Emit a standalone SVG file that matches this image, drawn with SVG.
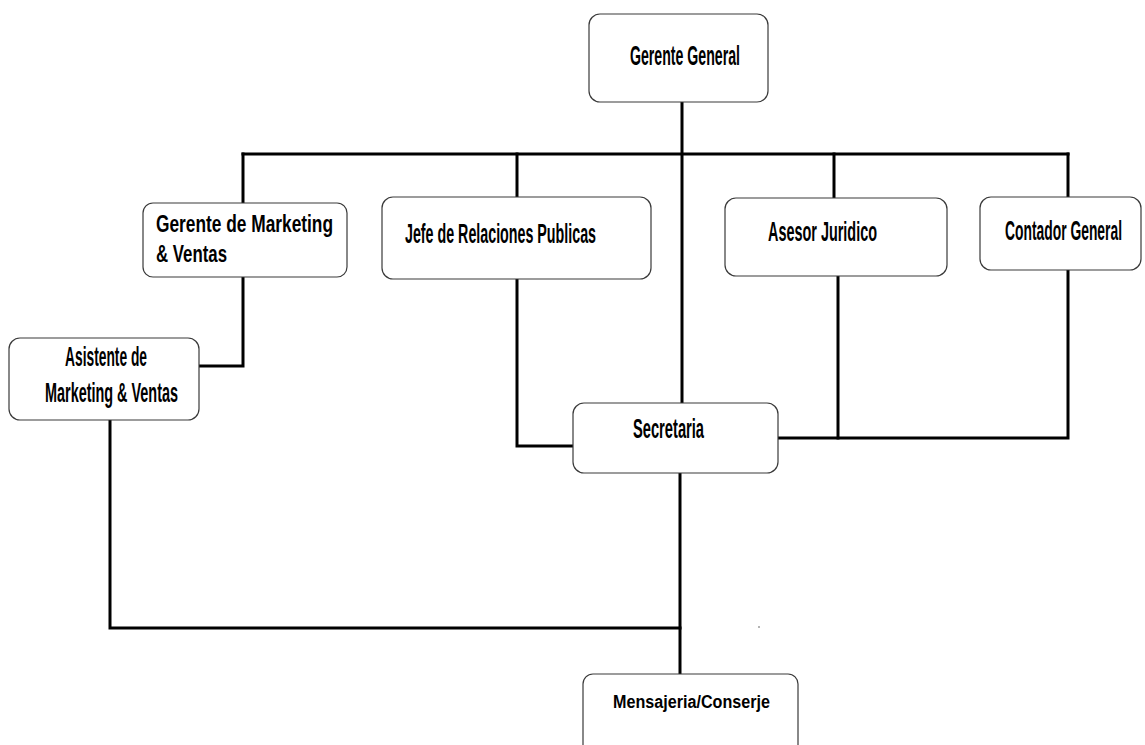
<svg xmlns="http://www.w3.org/2000/svg" width="1145" height="745" viewBox="0 0 1145 745">
<style>
.box{fill:#fff;stroke:#3a3a3a;stroke-width:1.2}
.t{font-family:"Liberation Sans",Arial,sans-serif;font-size:27px;font-weight:bold;fill:#000}
.tb{font-family:"Liberation Sans",Arial,sans-serif;font-size:24px;font-weight:bold;fill:#000}
.tm{font-family:"Liberation Sans",Arial,sans-serif;font-size:18px;font-weight:bold;fill:#000}
.c{fill:none;stroke:#000;stroke-width:3;stroke-linecap:square;stroke-linejoin:miter}
</style>
<rect width="1145" height="745" fill="#fff"/>
<g id="connectors">
<path class="c" d="M682,102 V403"/>
<path class="c" d="M243,154 H1068"/>
<path class="c" d="M243,154 V203"/>
<path class="c" d="M517,154 V197"/>
<path class="c" d="M834,154 V198"/>
<path class="c" d="M1068,154 V197"/>
<path class="c" d="M243,277 V366 H200"/>
<path class="c" d="M110,420 V628 H680"/>
<path class="c" d="M680,473 V674"/>
<path class="c" d="M517,279 V446 H573"/>
<path class="c" d="M838,276 V438"/>
<path class="c" d="M778,438 H1068 V270"/>
</g>
<g id="gerente-general">
<rect class="box" x="589" y="14" width="179" height="88" rx="11"/>
<text class="t" x="630" y="65" textLength="110" lengthAdjust="spacingAndGlyphs">Gerente General</text>
</g>
<g id="gerente-marketing">
<rect class="box" x="143" y="203" width="204" height="74" rx="10"/>
<text class="tb" x="156" y="232" textLength="177" lengthAdjust="spacingAndGlyphs">Gerente de Marketing</text>
<text class="tb" x="156" y="262" textLength="71" lengthAdjust="spacingAndGlyphs">&amp; Ventas</text>
</g>
<g id="jefe-relaciones">
<rect class="box" x="382" y="197" width="269" height="82" rx="11"/>
<text class="t" x="405" y="243" textLength="191" lengthAdjust="spacingAndGlyphs">Jefe de Relaciones Publicas</text>
</g>
<g id="asesor-juridico">
<rect class="box" x="725" y="198" width="222" height="78" rx="11"/>
<text class="t" x="768" y="241" textLength="109" lengthAdjust="spacingAndGlyphs">Asesor Juridico</text>
</g>
<g id="contador-general">
<rect class="box" x="980" y="197" width="161" height="73" rx="11"/>
<text class="t" x="1005" y="240" textLength="117" lengthAdjust="spacingAndGlyphs">Contador General</text>
</g>
<g id="asistente-marketing">
<rect class="box" x="9" y="338" width="190" height="82" rx="11"/>
<text class="t" x="65" y="366" textLength="82" lengthAdjust="spacingAndGlyphs">Asistente de</text>
<text class="t" x="45" y="402" textLength="133" lengthAdjust="spacingAndGlyphs">Marketing &amp; Ventas</text>
</g>
<g id="secretaria">
<rect class="box" x="573" y="403" width="205" height="70" rx="11"/>
<text class="t" x="633" y="438" textLength="71" lengthAdjust="spacingAndGlyphs">Secretaria</text>
</g>
<g id="mensajeria">
<rect class="box" x="583" y="674" width="215" height="90" rx="10"/>
<text class="tm" x="613" y="708" textLength="157" lengthAdjust="spacingAndGlyphs">Mensajeria/Conserje</text>
</g>
<circle cx="759" cy="627" r="0.8" fill="#555"/>
</svg>
